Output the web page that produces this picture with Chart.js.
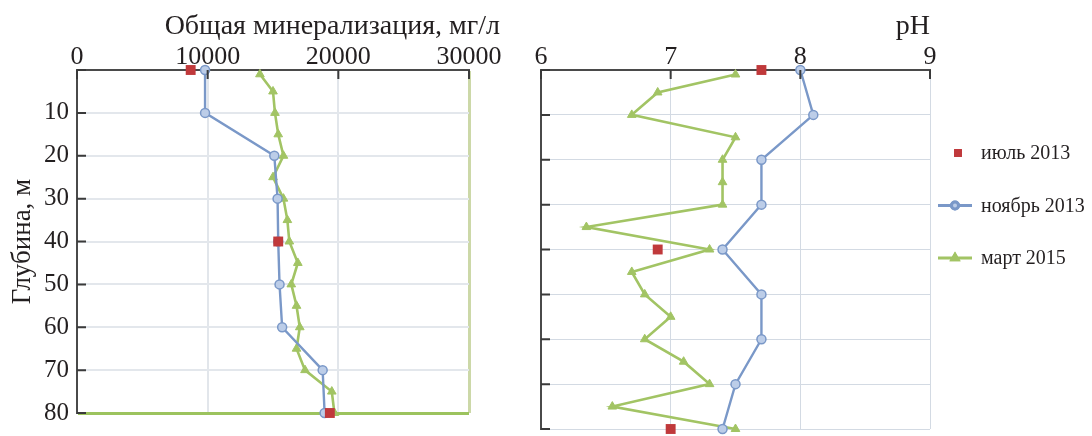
<!DOCTYPE html>
<html>
<head>
<meta charset="utf-8">
<script src="https://cdn.jsdelivr.net/npm/chart.js@4/dist/chart.umd.min.js"></script>
<style>
  html, body { margin: 0; padding: 0; background: #ffffff; }
  #wrap { position: relative; width: 1092px; height: 436px; overflow: hidden; }
  #c1 { position: absolute; left: 0; top: 0; }
  #c2 { position: absolute; left: 505px; top: 0; }
</style>
</head>
<body>
<div id="wrap">
  <canvas id="c1" width="502" height="436"></canvas>
  <canvas id="c2" width="587" height="436"></canvas>
</div>
<script>
// Depth profiles of a water body: total mineralization and pH
const seriesNames = ['июль 2013', 'ноябрь 2013', 'март 2015'];

const depthJul = [0, 40, 80];
const mineralJul = [8700, 15400, 19350];
const phJul = [7.7, 6.9, 7.0];

const depthNov = [0, 10, 20, 30, 40, 50, 60, 70, 80];
const mineralNov = [9800, 9800, 15100, 15350, 15400, 15500, 15700, 18800, 18950];
const phNov = [8.0, 8.1, 7.7, 7.7, 7.4, 7.7, 7.7, 7.5, 7.4];

const depthMar = [1, 5, 10, 15, 20, 25, 30, 35, 40, 45, 50, 55, 60, 65, 70, 75, 80];
const mineralMar = [14000, 15000, 15150, 15400, 15800, 15000, 15800, 16100, 16250,
                    16900, 16400, 16800, 17050, 16800, 17450, 19500, 19700];
const phMar = [7.5, 6.9, 6.7, 7.5, 7.4, 7.4, 7.4, 6.35, 7.3,
               6.7, 6.8, 7.0, 6.8, 7.1, 7.3, 6.55, 7.5];

const depthTicks = [0, 10, 20, 30, 40, 50, 60, 70, 80];
const mineralTicks = [0, 10000, 20000, 30000];
const phTicks = [6, 7, 8, 9];

const axisTitleMineral = 'Общая минерализация, мг/л';
const axisTitlePh = 'pH';
const axisTitleDepth = 'Глубина, м';

const FONT = "'Liberation Serif', 'Times New Roman', serif";
const TEXT = '#231f20';
const RED = '#c0393b', BLUE = '#7a98c8', GREEN = '#a2c464';

function pts(xs, ys) { return xs.map((x, i) => ({ x: x, y: ys[i] })); }

function makeDatasets(jul, nov, mar) {
  return [
    { label: seriesNames[0], data: pts(jul, depthJul), showLine: false,
      pointStyle: 'rect', pointRadius: 7, backgroundColor: RED, borderColor: RED,
      borderWidth: 0, clip: false, order: 0 },
    { label: seriesNames[1], data: pts(nov, depthNov), showLine: true,
      pointStyle: 'circle', pointRadius: 4.5, backgroundColor: '#bccde8',
      borderColor: BLUE, borderWidth: 2.4, pointBorderWidth: 1.5, clip: false, order: 1 },
    { label: seriesNames[2], data: pts(mar, depthMar), showLine: true,
      pointStyle: 'triangle', pointRadius: 5, backgroundColor: GREEN,
      borderColor: GREEN, borderWidth: 2.6, pointBorderWidth: 1, clip: false, order: 2 }
  ];
}

// short tick marks pointing into the plot from the top and left axes
const innerTicks = {
  id: 'innerTicks',
  afterDatasetsDraw(chart) {
    const { ctx, chartArea } = chart;
    const xs = chart.scales.x, ys = chart.scales.y;
    ctx.save();
    ctx.strokeStyle = '#3a3a3a';
    ctx.lineWidth = 2;
    ctx.beginPath();
    xs.ticks.forEach(t => {
      const px = xs.getPixelForValue(t.value);
      ctx.moveTo(px, chartArea.top); ctx.lineTo(px, chartArea.top + 9);
    });
    ys.ticks.forEach(t => {
      const py = ys.getPixelForValue(t.value);
      ctx.moveTo(chartArea.left, py); ctx.lineTo(chartArea.left + 9, py);
    });
    ctx.stroke();
    ctx.restore();
  }
};

// legend at the right of the pH panel: marker with a short line for connected series
const sideLegend = {
  id: 'sideLegend',
  afterDraw(chart) {
    const { ctx, chartArea } = chart;
    ctx.save();
    chart.data.datasets.forEach((ds, i) => {
      const y = chartArea.top + 83 + i * 52.5;
      const x0 = chartArea.right + 8, x1 = chartArea.right + 42;
      const mx = (x0 + x1) / 2 + (ds.showLine ? 0 : 3);
      if (ds.showLine) {
        ctx.strokeStyle = ds.borderColor;
        ctx.lineWidth = 3;
        ctx.beginPath(); ctx.moveTo(x0, y); ctx.lineTo(x1, y); ctx.stroke();
      }
      Chart.helpers.drawPoint(ctx, {
        pointStyle: ds.pointStyle,
        radius: ds.showLine ? 3.5 : 5.5,
        borderWidth: ds.showLine ? 1 : 0
      }, mx, y);
      ctx.fillStyle = ds.backgroundColor;
      ctx.strokeStyle = ds.borderColor;
      ctx.fill();
      if (ds.showLine) ctx.stroke();
      ctx.fillStyle = TEXT;
      ctx.font = '20px ' + FONT;
      ctx.textAlign = 'left';
      ctx.textBaseline = 'middle';
      ctx.fillText(ds.label, chartArea.right + 51, y + 1);
    });
    ctx.restore();
  }
};

function depthScale(showLabels, gridColor, gridWidth) {
  return {
    type: 'linear', reverse: true, min: 0, max: 80,
    afterBuildTicks(scale) { scale.ticks = depthTicks.map(v => ({ value: v })); },
    afterFit(scale) { scale.width = showLabels ? 77 : 36; },
    border: { display: true, color: '#4a4a4a', width: 2 },
    grid: { drawTicks: false, color: gridColor, lineWidth: gridWidth },
    ticks: {
      display: showLabels, padding: 8, color: TEXT, font: { family: FONT, size: 25 },
      callback: v => (v === 0 ? '' : String(v))
    },
    title: {
      display: showLabels, text: axisTitleDepth, color: TEXT,
      font: { family: FONT, size: 27 }, padding: { top: 7, bottom: 0 }
    }
  };
}

function topScale(min, max, tickValues, gridOpts, rightRoom) {
  return {
    type: 'linear', position: 'top', min: min, max: max,
    afterBuildTicks(scale) { scale.ticks = tickValues.map(v => ({ value: v })); },
    afterFit(scale) {
      scale.height = 26.4;
      if (rightRoom !== null) scale.paddingRight = rightRoom;
    },
    border: { display: true, color: '#4a4a4a', width: 2 },
    grid: gridOpts,
    ticks: { padding: -3, color: TEXT, font: { family: FONT, size: 26 }, maxRotation: 0,
             callback: v => String(v) }
  };
}

const titleFont = { family: FONT, size: 28, weight: 'normal' };

// left panel: total mineralization
new Chart(document.getElementById('c1'), {
  type: 'scatter',
  data: { datasets: makeDatasets(mineralJul, mineralNov, mineralMar) },
  options: {
    responsive: false, animation: false,
    layout: { padding: { left: 0, right: 2, top: 0, bottom: 7 } },
    plugins: {
      legend: { display: false }, tooltip: { enabled: false },
      title: { display: true, text: axisTitleMineral, align: 'end', color: TEXT,
               font: titleFont, padding: { top: 10, bottom: 0 } }
    },
    scales: {
      x: topScale(0, 30000, mineralTicks, {
        drawTicks: false,
        color: c => (c.tick && c.tick.value === 30000 ? '#ccd8a8' : '#e2e6eb'),
        lineWidth: c => (c.tick && c.tick.value === 30000 ? 3 : 2)
      }, 33),
      y: depthScale(true,
        c => (c.tick && c.tick.value === 80 ? '#9cc35e' : '#e3e7ec'),
        c => (c.tick && c.tick.value === 80 ? 3 : 2))
    }
  },
  plugins: [innerTicks]
});

// right panel: pH with the legend
const phDepth = depthScale(false, '#d3dae3', 1);
phDepth.grid.borderDash = [2, 2];
new Chart(document.getElementById('c2'), {
  type: 'scatter',
  data: { datasets: makeDatasets(phJul, phNov, phMar) },
  options: {
    responsive: false, animation: false,
    layout: { padding: { left: 0, right: 162, top: 0, bottom: 7 } },
    plugins: {
      legend: { display: false }, tooltip: { enabled: false },
      title: { display: true, text: axisTitlePh, align: 'end', color: TEXT,
               font: titleFont, padding: { top: 10, bottom: 0 } }
    },
    scales: {
      x: topScale(6, 9, phTicks,
        { drawTicks: false, color: '#d3dae3', lineWidth: 1, borderDash: [2, 2] }, null),
      y: phDepth
    }
  },
  plugins: [innerTicks, sideLegend]
});
</script>
</body>
</html>
